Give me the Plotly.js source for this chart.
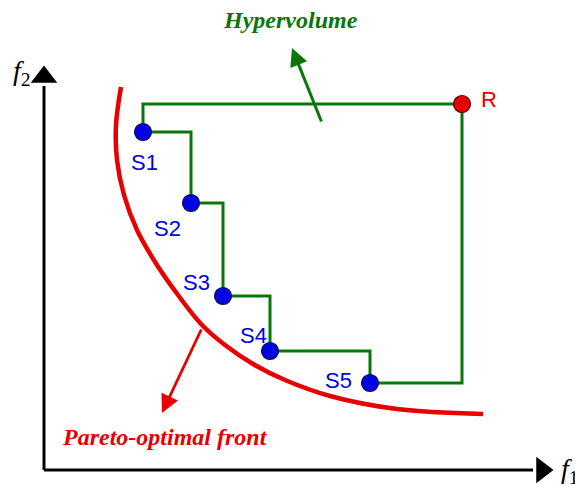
<!DOCTYPE html>
<html>
<head>
<meta charset="utf-8">
<script src="https://cdn.plot.ly/plotly-3.0.1.min.js"></script>
<style>html,body{margin:0;padding:0;background:#fff;}#chart{width:575px;height:486px;}</style>
</head>
<body>
<div id="chart"></div>
<script>
// Solutions (f1, f2)
const solLabels = ['S1', 'S2', 'S3', 'S4', 'S5'];
const solF1 = [99, 147, 179, 226, 326];
const solF2 = [338, 267, 174, 119, 87];
// Reference point
const refLabel = 'R';
const refF1 = 418;
const refF2 = 366;
// Pareto-optimal front (sampled along the curve)
const frontF1 = [77, 72, 73, 80, 93, 113, 134, 158, 181, 209, 241, 286, 353, 439];
const frontF2 = [383, 345, 310, 275, 240, 205, 175, 145, 125, 106, 90, 74, 61, 56];
// Axis extents
const axisF1Max = 509;
const axisF2Max = 404;
// Annotation arrows: [tailF1, tailF2, tipF1, tipF2]
const hvArrow = [278, 347, 248, 422];
const pfArrow = [158, 142, 118, 57];
const titleHV = 'Hypervolume';
const titlePF = 'Pareto-optimal front';

// Build hypervolume staircase: S1 up to ref level, over to R, down to S5 level, then steps back to S1
const stairX = [solF1[0], solF1[0], refF1, refF1];
const stairY = [solF2[0], refF2, refF2, solF2[solF2.length - 1]];
for (let i = solF1.length - 1; i >= 0; i--) {
  stairX.push(solF1[i]); stairY.push(solF2[i]);
  if (i > 0) { stairX.push(solF1[i]); stairY.push(solF2[i - 1]); }
}

const green = '#0a760a';
const red = '#e60000';
const blue = '#0000e6';

const traces = [
  // axes
  {x: [0, 0], y: [axisF2Max - 20, 0], mode: 'lines', line: {color: '#000', width: 3}, hoverinfo: 'skip'},
  {x: [0, axisF1Max - 20], y: [0, 0], mode: 'lines', line: {color: '#000', width: 3}, hoverinfo: 'skip'},
  {x: [0], y: [axisF2Max - 11], mode: 'markers', marker: {symbol: 'triangle-up', size: 23, color: '#000'}, hoverinfo: 'skip'},
  {x: [axisF1Max - 11], y: [0], mode: 'markers', marker: {symbol: 'triangle-right', size: 23, color: '#000'}, hoverinfo: 'skip'},
  // Pareto front
  {x: frontF1, y: frontF2, mode: 'lines', line: {color: red, width: 4.5, shape: 'spline', smoothing: 1}, hoverinfo: 'skip'},
  // staircase
  {x: stairX, y: stairY, mode: 'lines', line: {color: green, width: 3}, hoverinfo: 'skip'},
  // solutions
  {x: solF1, y: solF2, mode: 'markers', marker: {size: 17, color: blue, line: {color: '#10104a', width: 1.2}}, hoverinfo: 'skip'},
  // reference point
  {x: [refF1], y: [refF2], mode: 'markers', marker: {size: 17, color: red, line: {color: '#5a0000', width: 1.2}}, hoverinfo: 'skip'}
];

const labelOffsets = [[1, -30], [-24, -25], [-27, 14], [-17, 16], [-32, 3]];
const annotations = solLabels.map((s, i) => ({
  x: solF1[i], y: solF2[i], xref: 'x', yref: 'y', text: s, showarrow: false,
  xanchor: 'center', yanchor: 'middle',
  xshift: labelOffsets[i][0], yshift: labelOffsets[i][1],
  font: {family: 'Liberation Sans, Arial', size: 22, color: blue}
}));
annotations.push({x: refF1, y: refF2, text: refLabel, showarrow: false, xshift: 27, yshift: 5,
  xanchor: 'center', yanchor: 'middle',
  font: {family: 'Liberation Sans, Arial', size: 22, color: red}});
annotations.push({x: hvArrow[2], y: hvArrow[3], ax: hvArrow[0], ay: hvArrow[1], axref: 'x', ayref: 'y',
  xref: 'x', yref: 'y', text: '', showarrow: true, arrowhead: 2, arrowsize: 1.2, arrowwidth: 3, arrowcolor: green});
annotations.push({x: pfArrow[2], y: pfArrow[3], ax: pfArrow[0], ay: pfArrow[1], axref: 'x', ayref: 'y',
  xref: 'x', yref: 'y', text: '', showarrow: true, arrowhead: 2, arrowsize: 1.3, arrowwidth: 2.8, arrowcolor: red});
annotations.push({xref: 'paper', yref: 'paper', x: 290 / 575, y: 1 - 20 / 486, xanchor: 'center', yanchor: 'middle',
  text: '<b><i>' + titleHV + '</i></b>',
  showarrow: false, font: {family: 'Liberation Serif, Times New Roman', size: 24, color: green}});
annotations.push({xref: 'paper', yref: 'paper', x: 165 / 575, y: 1 - 437 / 486, xanchor: 'center', yanchor: 'middle',
  text: '<b><i>' + titlePF + '</i></b>',
  showarrow: false, font: {family: 'Liberation Serif, Times New Roman', size: 24, color: red}});
annotations.push({xref: 'paper', yref: 'paper', x: 22 / 575, y: 1 - 72 / 486, xanchor: 'center', yanchor: 'middle',
  text: '<i>f</i><sub>2</sub>',
  showarrow: false, font: {family: 'Liberation Serif, Times New Roman', size: 28, color: '#000'}});
annotations.push({xref: 'paper', yref: 'paper', x: 559 / 575, y: 1 - 470 / 486, xanchor: 'left', yanchor: 'middle',
  text: '<i>f</i><sub>1</sub>',
  showarrow: false, font: {family: 'Liberation Serif, Times New Roman', size: 28, color: '#000'}});

const layout = {
  width: 575, height: 486,
  margin: {l: 0, r: 0, t: 0, b: 0},
  paper_bgcolor: '#fff', plot_bgcolor: '#fff',
  showlegend: false,
  xaxis: {range: [-44, 531], visible: false, fixedrange: true},
  yaxis: {range: [-16, 470], visible: false, fixedrange: true},
  annotations: annotations
};

Plotly.newPlot('chart', traces, layout, {displayModeBar: false, staticPlot: true});
</script>
</body>
</html>
